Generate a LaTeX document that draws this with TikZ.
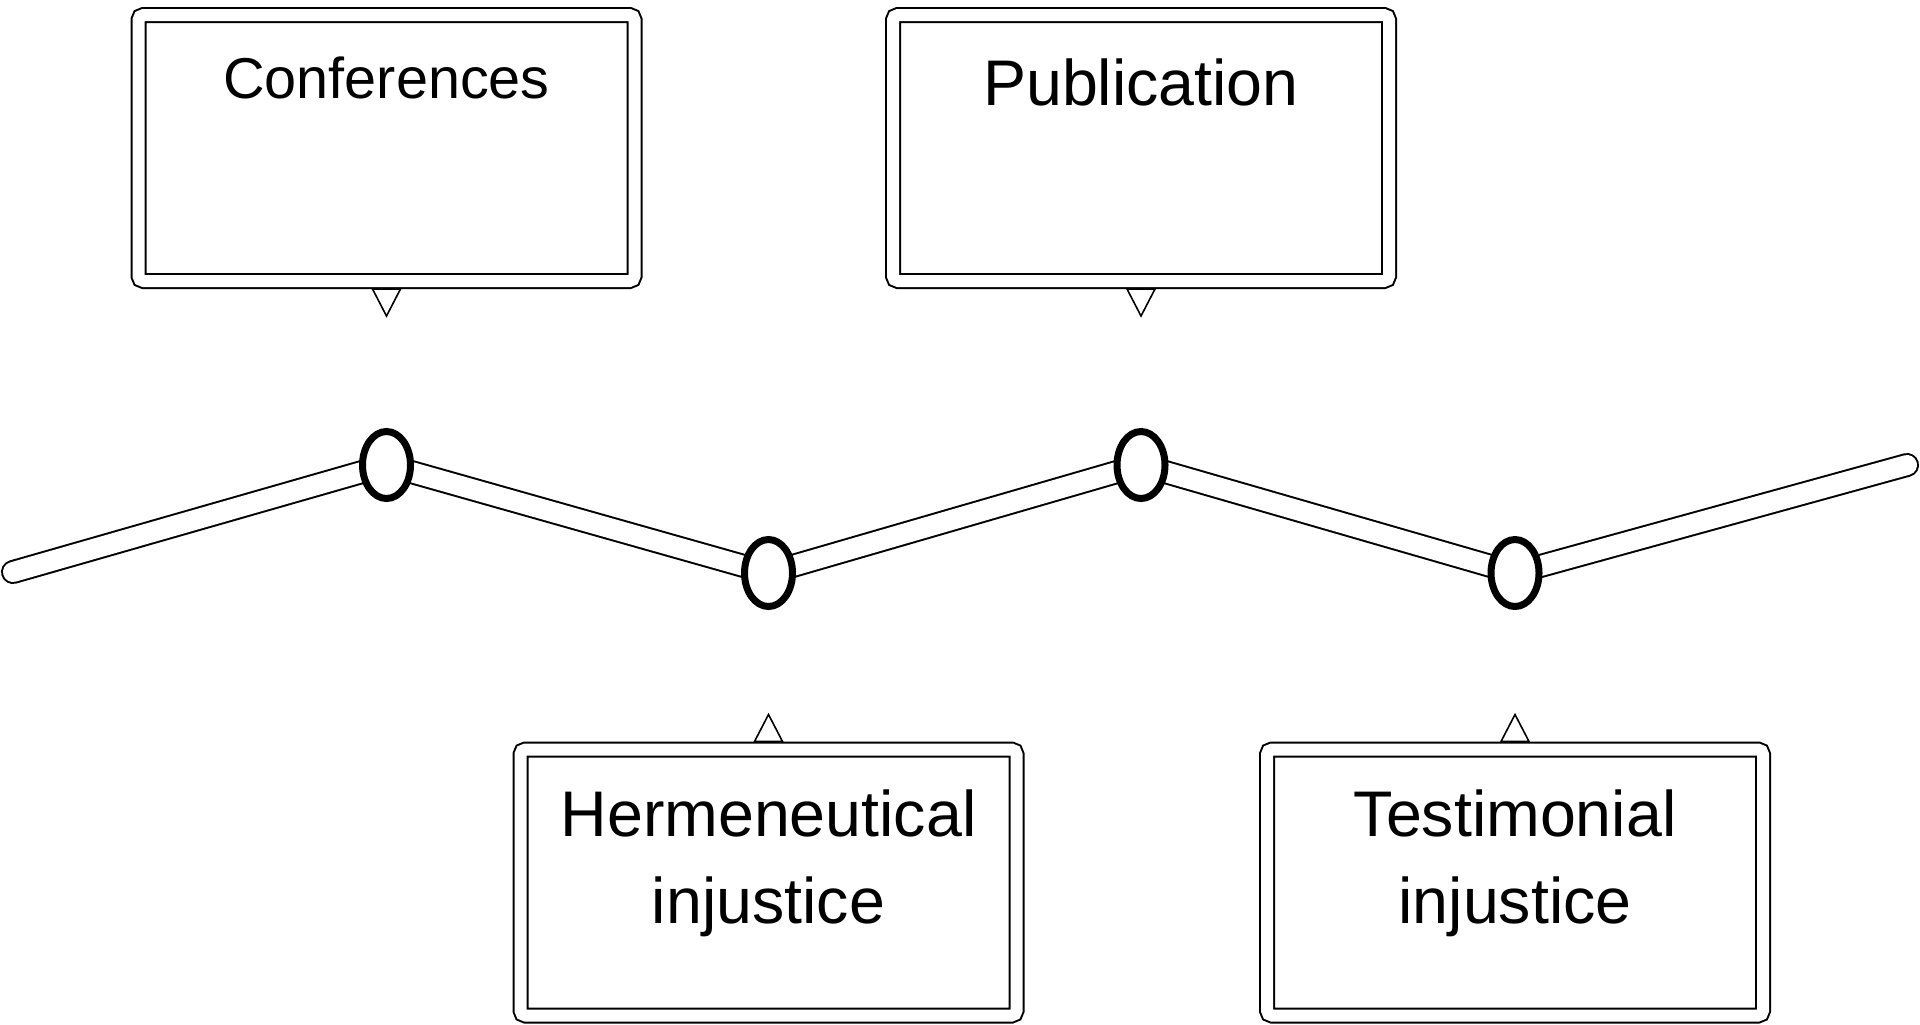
\documentclass[tikz,border=0pt]{standalone}
\usepackage{fontspec}
\setmainfont{Liberation Sans}
\usetikzlibrary{shapes.geometric,positioning,backgrounds}

\begin{document}
\begin{tikzpicture}[x=0.5pt,y=-0.5pt]
\tikzset{
stop/.style={ellipse, draw, fill=white, line width=3.5pt, minimum width=24pt, minimum height=33.5pt, inner sep=0pt, outer sep=0pt},
board/.style={rectangle, draw, double, double distance=6pt, line width=1pt, rounded corners=2.5pt, minimum width=248pt, minimum height=133pt, inner sep=0pt, outer sep=0pt},
caption/.style={font=\fontsize{32.25}{43.5}\selectfont, align=center, anchor=base, inner sep=0pt},
smallcaption/.style={caption, font=\fontsize{28.8}{38}\selectfont},
road/.style={double=white, double distance=10pt, line width=1pt, line cap=round, line join=round},
pointer/.style={draw, fill=white, line width=0.8pt},
}
\useasboundingbox (0,0) rectangle (1920,1024);

% stops on the road
\node [stop] (s1) at (386.5,465) {};
\node [stop] (s2) at (768.5,573) {};
\node [stop] (s3) at (1141,465) {};
\node [stop] (s4) at (1515,573) {};
\coordinate (e0) at (13,572);
\coordinate (e1) at (1907,465);

% boxes
\node [board, above=75.25pt of s1] (conf) {};
\node [board, above=75.25pt of s3] (pub) {};
\node [board, below=71.5pt of s2] (herm) {};
\node [board, below=71.5pt of s4] (test) {};
\node [smallcaption] (conftext) at ([yshift=-41.5pt]conf.north) {Conferences};
\node [caption] (pubtext) at ([yshift=-45pt]pub.north) {Publication};
% base of a two line node sits on its last line
\node [caption] (hermtext) at ([yshift=-87pt]herm.north) {Hermeneutical\\injustice};
\node [caption] (testtext) at ([yshift=-87pt]test.north) {Testimonial\\injustice};

% pointers
\draw[pointer] ([yshift=-4pt]conf.south) ++(-7pt,0) -- ++(14pt,0) -- ++(-7pt,-13.5pt) -- cycle;
\draw[pointer] ([yshift=-4pt]pub.south) ++(-7pt,0) -- ++(14pt,0) -- ++(-7pt,-13.5pt) -- cycle;
\draw[pointer] ([yshift=4pt]herm.north) ++(-7pt,0) -- ++(14pt,0) -- ++(-7pt,13.5pt) -- cycle;
\draw[pointer] ([yshift=4pt]test.north) ++(-7pt,0) -- ++(14pt,0) -- ++(-7pt,13.5pt) -- cycle;

\begin{pgfonlayer}{background}
\draw[road] (e0) -- (s1.center) -- (s2.center) -- (s3.center) -- (s4.center) -- (e1);
\end{pgfonlayer}
\end{tikzpicture}
\end{document}
